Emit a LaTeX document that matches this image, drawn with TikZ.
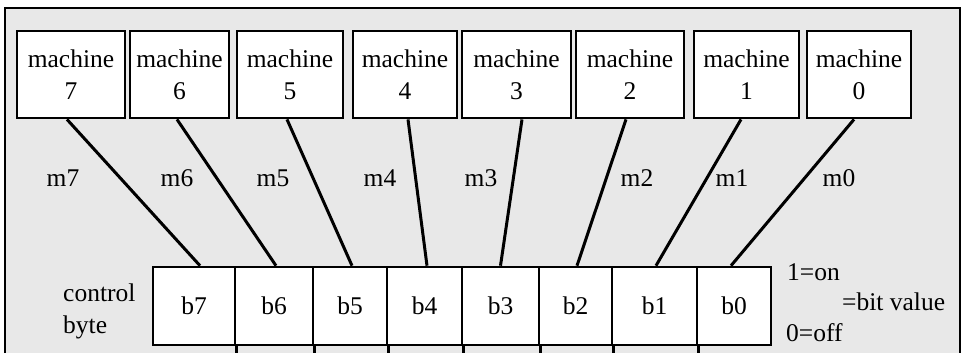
\documentclass[tikz,border=0pt]{standalone}
\usepackage{fontspec}
\setmainfont{Liberation Serif}
\begin{document}
\begin{tikzpicture}[x=1pt,y=-1pt,
  every node/.style={font=\fontsize{25.5}{32}\selectfont},
  machbox/.style={draw,line width=2.8pt,fill=white,rectangle,minimum height=87pt,inner sep=0pt,align=center},
  bitcell/.style={draw,line width=2.6pt,fill=white,rectangle,minimum height=78pt,inner sep=0pt},
  wire/.style={line width=3pt},
  lbl/.style={inner sep=0pt},
  frame/.style={line width=1.8pt}]
\useasboundingbox (0,0) rectangle (968,353);
\fill[white] (0,0) rectangle (968,353);
\fill[black!9] (5,8) rectangle (960,353);
\draw[frame] (5,353) -- (5,8) -- (960,8) -- (960,353);
% machine boxes
\node[machbox,minimum width=108pt] (mach7) at (71,74.5) {machine\\7};
\node[machbox,minimum width=99pt] (mach6) at (179.5,74.5) {machine\\6};
\node[machbox,minimum width=106pt] (mach5) at (290,74.5) {machine\\5};
\node[machbox,minimum width=104pt] (mach4) at (405,74.5) {machine\\4};
\node[machbox,minimum width=109pt] (mach3) at (516.5,74.5) {machine\\3};
\node[machbox,minimum width=108pt] (mach2) at (630,74.5) {machine\\2};
\node[machbox,minimum width=105pt] (mach1) at (746.5,74.5) {machine\\1};
\node[machbox,minimum width=104pt] (mach0) at (859,74.5) {machine\\0};
% byte cells
\node[bitcell,minimum width=82pt] (b7) at (194,306) {b7};
\node[bitcell,minimum width=78pt] (b6) at (274,306) {b6};
\node[bitcell,minimum width=74pt] (b5) at (350,306) {b5};
\node[bitcell,minimum width=75pt] (b4) at (424.5,306) {b4};
\node[bitcell,minimum width=77pt] (b3) at (500.5,306) {b3};
\node[bitcell,minimum width=73pt] (b2) at (575.5,306) {b2};
\node[bitcell,minimum width=85pt] (b1) at (654.5,306) {b1};
\node[bitcell,minimum width=74pt] (b0) at (734,306) {b0};
% divider extensions
\coordinate (bot) at (0,353);
\foreach \c in {b7,b6,b5,b4,b3,b2,b1}
  \draw[line width=2.6pt] (\c.south east) -- (\c.south east |- bot);
% connectors
\draw[wire] ([xshift=-4pt]mach7.south) -- ([xshift=6pt]b7.north);
\draw[wire] ([xshift=-2.5pt]mach6.south) -- ([xshift=2pt]b6.north);
\draw[wire] ([xshift=-3pt]mach5.south) -- ([xshift=2pt]b5.north);
\draw[wire] ([xshift=3pt]mach4.south) -- ([xshift=2.5pt]b4.north);
\draw[wire] ([xshift=5.5pt]mach3.south) -- ([xshift=0pt]b3.north);
\draw[wire] ([xshift=-4pt]mach2.south) -- ([xshift=1.5pt]b2.north);
\draw[wire] ([xshift=-5.5pt]mach1.south) -- ([xshift=1.5pt]b1.north);
\draw[wire] ([xshift=-5pt]mach0.south) -- ([xshift=-3pt]b0.north);
% wire labels
\node[lbl] (l7) at (63,178) {m7};
\node[lbl] (l6) at (177,178) {m6};
\node[lbl] (l5) at (273,178) {m5};
\node[lbl] (l4) at (380,178) {m4};
\node[lbl] (l3) at (481,178) {m3};
\node[lbl] (l2) at (637,178) {m2};
\node[lbl] (l1) at (732,178) {m1};
\node[lbl] (l0) at (839,178) {m0};
% side texts
\node[lbl,anchor=west,align=left] (cb) at (63,311) {control\\byte};
\node[lbl,anchor=west] (on) at (787,272) {1=on};
\node[lbl,anchor=west] (bv) at (842,302) {=bit value};
\node[lbl,anchor=west] (off) at (786,333) {0=off};
\end{tikzpicture}
\end{document}
